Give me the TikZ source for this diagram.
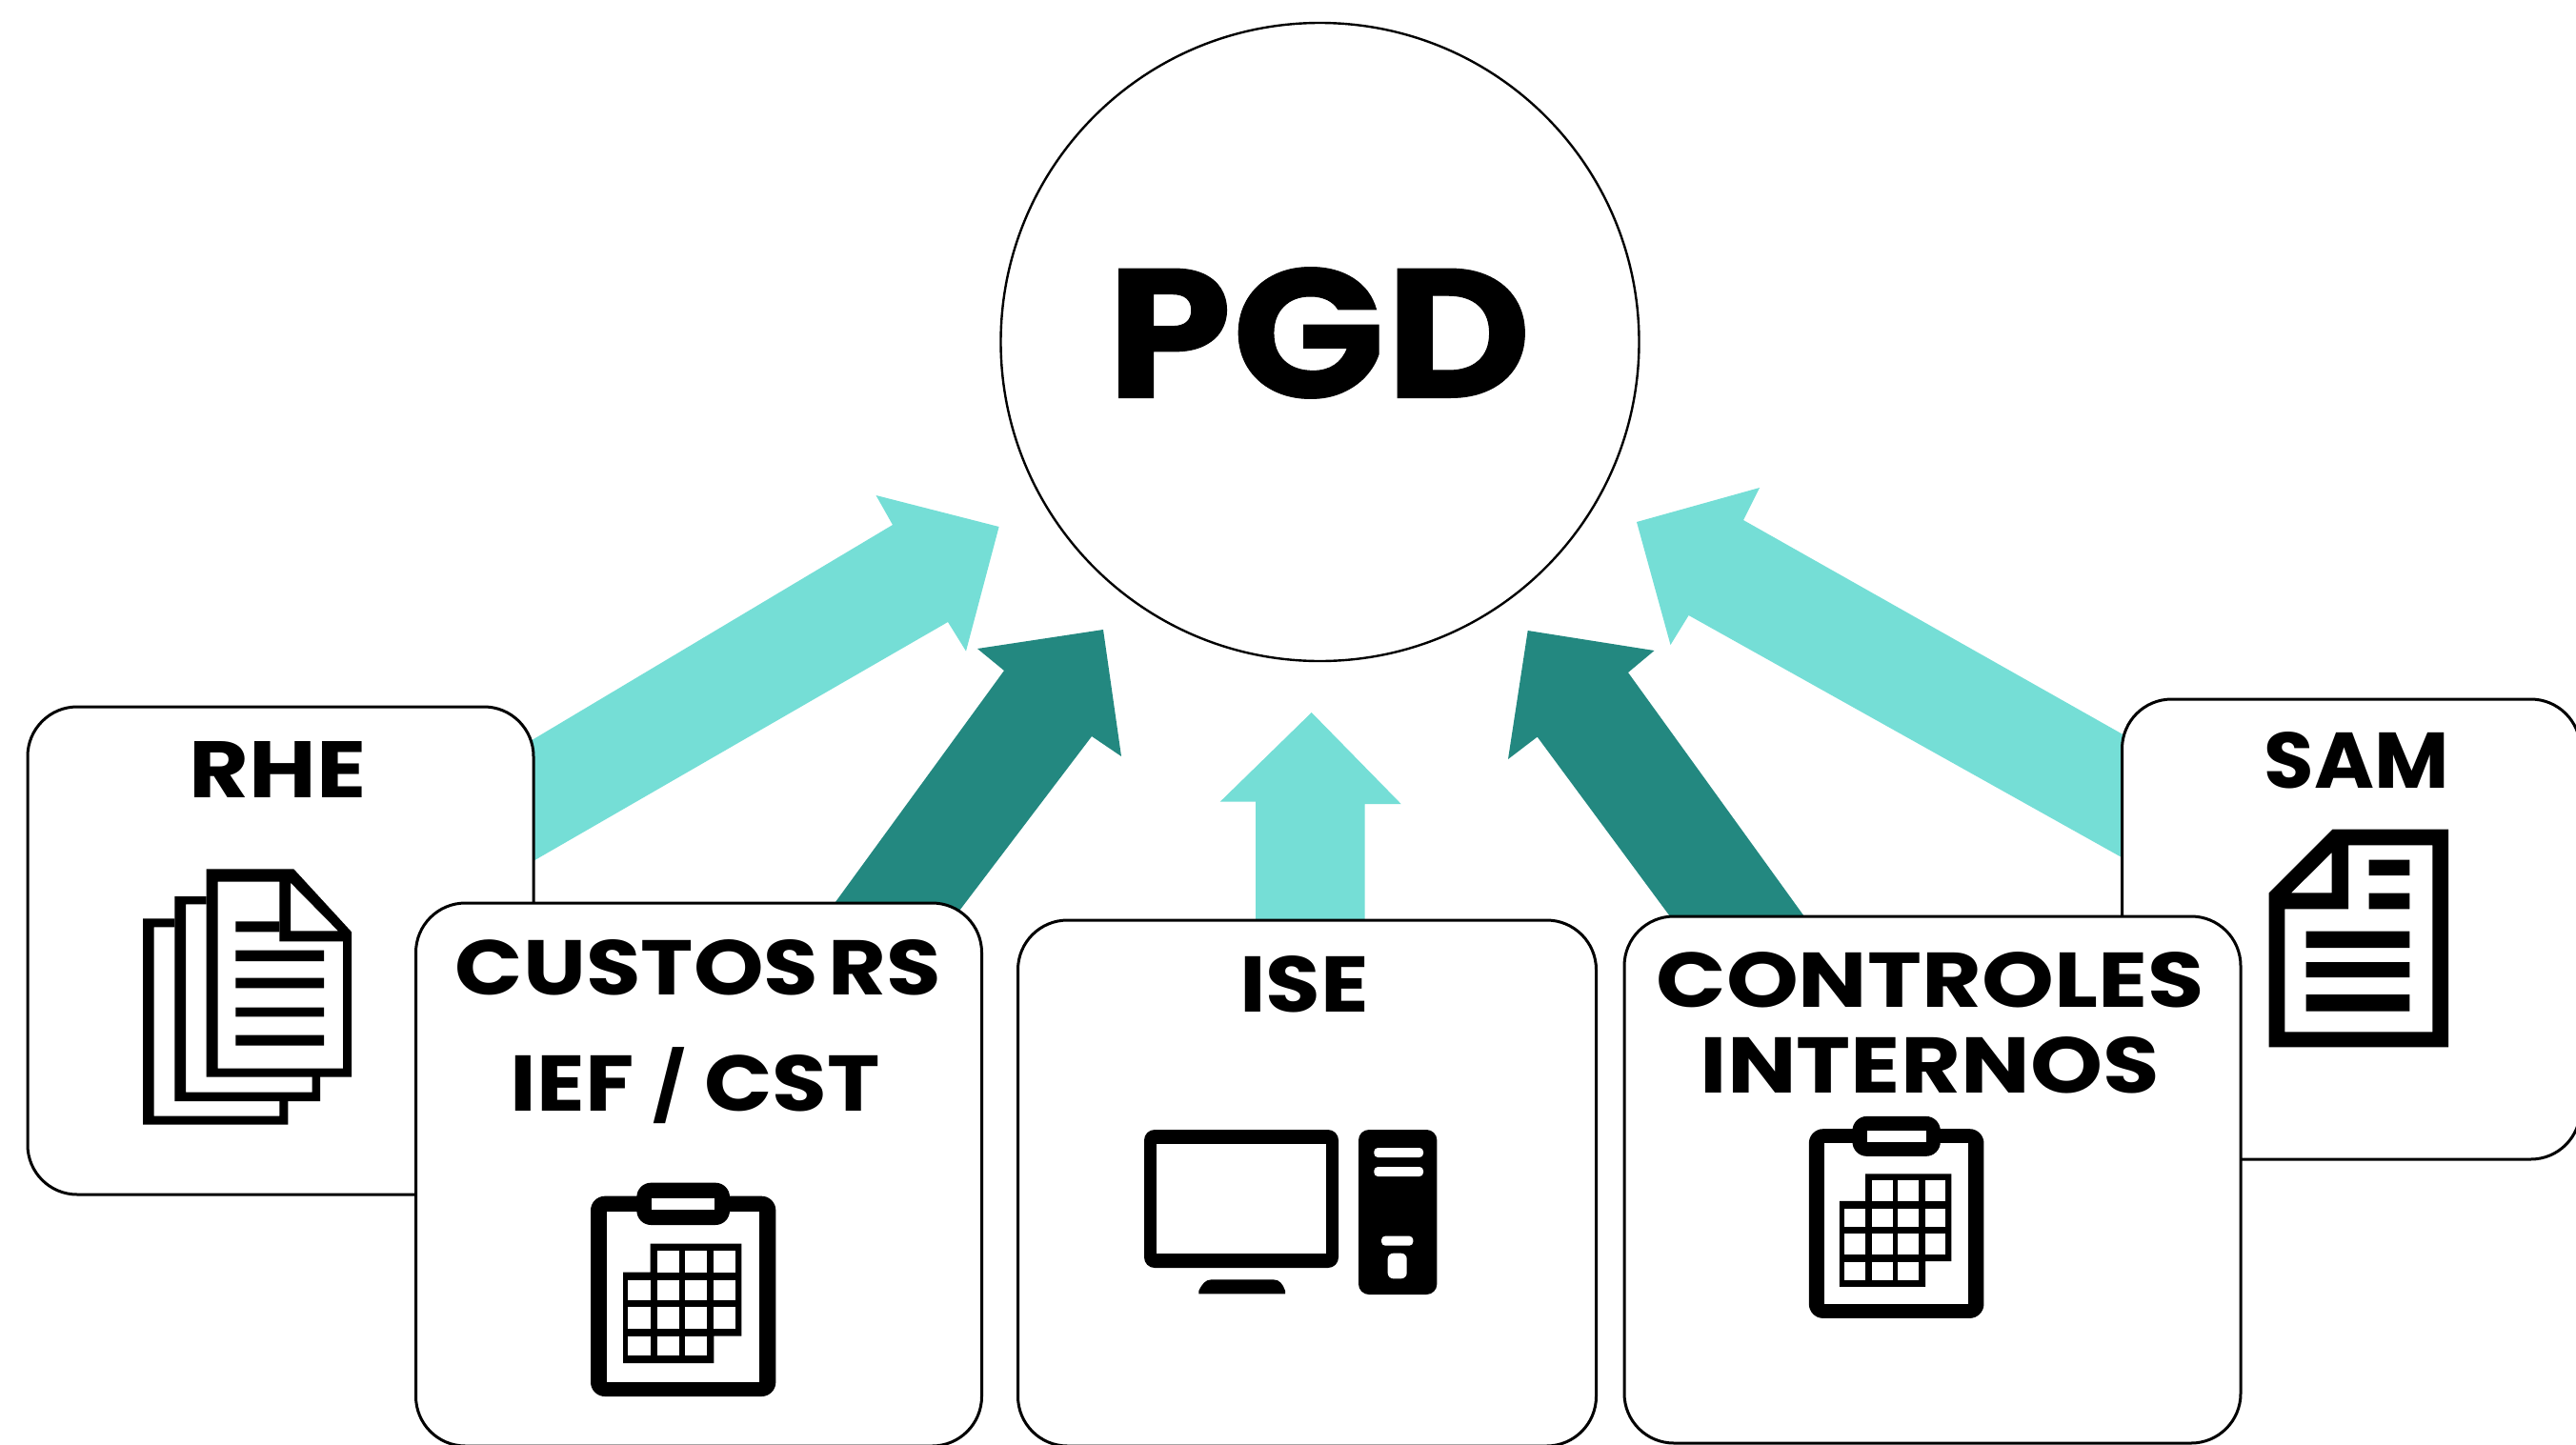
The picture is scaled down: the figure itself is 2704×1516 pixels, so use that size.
\documentclass[tikz,border=0pt]{standalone}
\usepackage{graphicx}
\usepackage{fontspec}
\setmainfont{Poppins}
\newfontfamily\heavyfont{Poppins}[BoldFeatures={FakeBold=0.5}]
\usetikzlibrary{calc,backgrounds}
\newlength{\pxu}\setlength{\pxu}{0.5pt}
\newcommand{\fittext}[3]{\resizebox{#1\pxu}{#2\pxu}{\fontsize{40}{40}\selectfont\bfseries #3}}
\definecolor{tealL}{HTML}{75DED6}
\definecolor{tealD}{HTML}{238880}
\tikzset{
  boxnode/.style={draw=black,fill=white,line width=1.5pt,rounded corners=26pt,inner sep=0pt,rectangle},
  hubnode/.style={draw=black,fill=white,line width=1.2pt,circle,inner sep=0pt},
  lbl/.style={inner sep=0pt,outer sep=0pt,text=black},
  arrowlight/.style={fill=tealL,draw=none},
  arrowdark/.style={fill=tealD,draw=none},
  ink/.style={fill=black,draw=none,even odd rule},
  zoomframe/.style={x=0.16667pt,y=-0.16667pt},
}
% clipboard icon, drawn in the coordinates of a 3x crop
\newcommand{\clipicon}{%
  \fill[black,rounded corners=7.5pt] (120,137) rectangle (703,768);
  \fill[white] (172,185) rectangle (652,722);
  \fill[black,rounded corners=7.5pt] (265,95) rectangle (558,228);
  \fill[white] (313,143) rectangle (510,180);
  \fill[black] (308,287) -- (595,287) -- (595,578) -- (508,578) -- (508,663) -- (222,663) -- (222,377) -- (308,377) -- cycle;
  \foreach \xa/\xb in {330/400,417/487,508/575} {\fill[white] (\xa,308) rectangle (\xb,378);}
  \foreach \xa/\xb in {238/308,330/400,417/487,508/575} {\fill[white] (\xa,402) rectangle (\xb,465); \fill[white] (\xa,487) rectangle (\xb,555);}
  \foreach \xa/\xb in {238/308,330/400,417/487} {\fill[white] (\xa,580) rectangle (\xb,640);}
}
\begin{document}
\begin{tikzpicture}[x=0.5pt,y=-0.5pt]
\useasboundingbox (0,0) rectangle (2704,1516);

% boxes
\node[boxnode,minimum width=265.5pt,minimum height=256pt] (rhe) at (294.5,998) {};
\node[boxnode,minimum width=240.5pt,minimum height=241.5pt] (sam) at (2468,975.5) {};
\node[boxnode,minimum width=297pt,minimum height=285pt] (custos) at (733.5,1233) {};
\node[boxnode,minimum width=303.5pt,minimum height=276pt] (ise) at (1372,1242) {};
\node[boxnode,minimum width=323.5pt,minimum height=276.5pt] (controles) at (2028.5,1238.5) {};
\node[hubnode,minimum size=335pt] (pgd) at (1385.5,359) {};

% tips of the arrows
\coordinate (tipA) at (1048.6,553);
\coordinate (tipB) at (1158,661);
\coordinate (tipC) at (1376.7,748);
\coordinate (tipD) at (1603.7,662);
\coordinate (tipE) at (1718,548);

\begin{scope}[on background layer]
\fill[white] (0,0) rectangle (2704,1516);
\fill[arrowlight] ($(rhe.east)+(-40,-199)$) -- (937,551) -- (919.5,520) -- (tipA) -- (1014,683.6) -- (995,653) -- ($(rhe.east)+(-40,-72)$) -- cycle;
\fill[arrowdark] ($(custos.north)+(120.5,32)$) -- (1054,704) -- (1026,681) -- (tipB) -- (1177,794) -- (1146,773) -- ($(custos.north)+(256.5,32)$) -- cycle;
\fill[arrowlight] ($(ise.north)+(-54,20)$) -- (1318,841.7) -- (1280.7,841.7) -- (tipC) -- (1470.7,844) -- (1432.7,844) -- ($(ise.north)+(60.7,20)$) -- cycle;
\fill[arrowdark] ($(controles.north)+(-256,28)$) -- (1613.7,773.6) -- (1583,797) -- (tipD) -- (1736.5,683) -- (1709,706) -- ($(controles.north)+(-115.5,28)$) -- cycle;
\fill[arrowlight] ($(sam.west)+(43,-181.5)$) -- (1830,546) -- (1847,512) -- (tipE) -- (1753.5,677) -- (1772.6,646) -- ($(sam.west)+(43,-52)$) -- cycle;
\end{scope}

% labels
\node[lbl] (tpgd) at (1384.5,349.5) {\resizebox{446\pxu}{137\pxu}{\heavyfont\fontsize{40}{40}\selectfont\bfseries PGD}};
\node[lbl] (trhe) at (291.5,807.5) {\fittext{186}{59}{RHE}};
\node[lbl] (tcus) at (733,1016) {\fittext{510}{58}{CUSTOS\kern-0.1em\ RS}};
\node[lbl] (tief) at (730,1137.5) {\fittext{388}{59}{IEF \smash{\scalebox{0.8}[0.85]{/}} CST}};
\node[lbl] (tise) at (1369,1033) {\fittext{136}{59}{ISE}};
\node[lbl] (tcon) at (2026,1028.5) {\fittext{575}{58}{CONTROLES}};
\node[lbl] (tint) at (2025.5,1118.5) {\fittext{482}{59}{INTERNOS}};
\node[lbl] (tsam) at (2473.5,798.5) {\fittext{194}{59}{SAM}};

% stacked documents icon
\begin{scope}[shift={(100,860)},zoomframe]
\fill[ink] (150,313) -- (250,313) -- (250,340) -- (185,340) -- (185,935) -- (580,935) -- (580,885) -- (607,885) -- (607,962) -- (150,962) -- cycle;
\fill[ink] (250,243) -- (350,243) -- (350,268) -- (285,268) -- (285,860) -- (683,860) -- (683,810) -- (708,810) -- (708,888) -- (250,888) -- cycle;
\fill[ink] (350,157) -- (625,157) -- (807,355) -- (807,812) -- (350,812) -- cycle
  (386,197) -- (580,197) -- (580,385) -- (780,385) -- (780,785) -- (386,785) -- cycle
  (615,200) -- (765,352) -- (615,352) -- cycle;
\fill[black] (442,322) rectangle (580,355) (442,413) rectangle (720,447) (442,500) rectangle (720,532) (442,593) rectangle (720,622) (442,680) rectangle (720,713);
\end{scope}

% clipboards
\begin{scope}[shift={(580,1210)},zoomframe]
\clipicon
\end{scope}
\begin{scope}[shift={(1861,1142)},x=0.1575pt,y=-0.1575pt]
\clipicon
\end{scope}

% computer icon
\begin{scope}[shift={(1170,1160)},zoomframe]
\fill[black,rounded corners=5.5pt] (93,78) rectangle (705,513);
\fill[white] (132,122) rectangle (665,467);
\fill[black] (265,595) -- (265,585) .. controls (275,565) and (285,550) .. (305,550) -- (500,550) .. controls (520,550) and (530,565) .. (537,585) -- (537,595) -- cycle;
\fill[black,rounded corners=5.5pt] (768,78) rectangle (1015,597);
\fill[white,rounded corners=2pt] (817,135) rectangle (972,165);
\fill[white,rounded corners=2pt] (817,195) rectangle (972,225);
\fill[white,rounded corners=2pt] (840,413) rectangle (940,443);
\fill[white,rounded corners=3pt] (860,467) rectangle (920,547);
\end{scope}

% single document icon
\begin{scope}[shift={(2350,850)},zoomframe]
\fill[ink] (295,62) -- (660,62) -- (660,748) -- (95,748) -- (95,262) -- cycle
  (345,112) -- (610,112) -- (610,700) -- (145,700) -- (145,313) -- (345,313) -- cycle
  (293,135) -- (293,262) -- (165,262) -- cycle;
\fill[black] (410,158) rectangle (538,207) (410,263) rectangle (538,313) (212,383) rectangle (538,435) (212,480) rectangle (538,528) (212,582) rectangle (538,635);
\end{scope}
\end{tikzpicture}
\end{document}
